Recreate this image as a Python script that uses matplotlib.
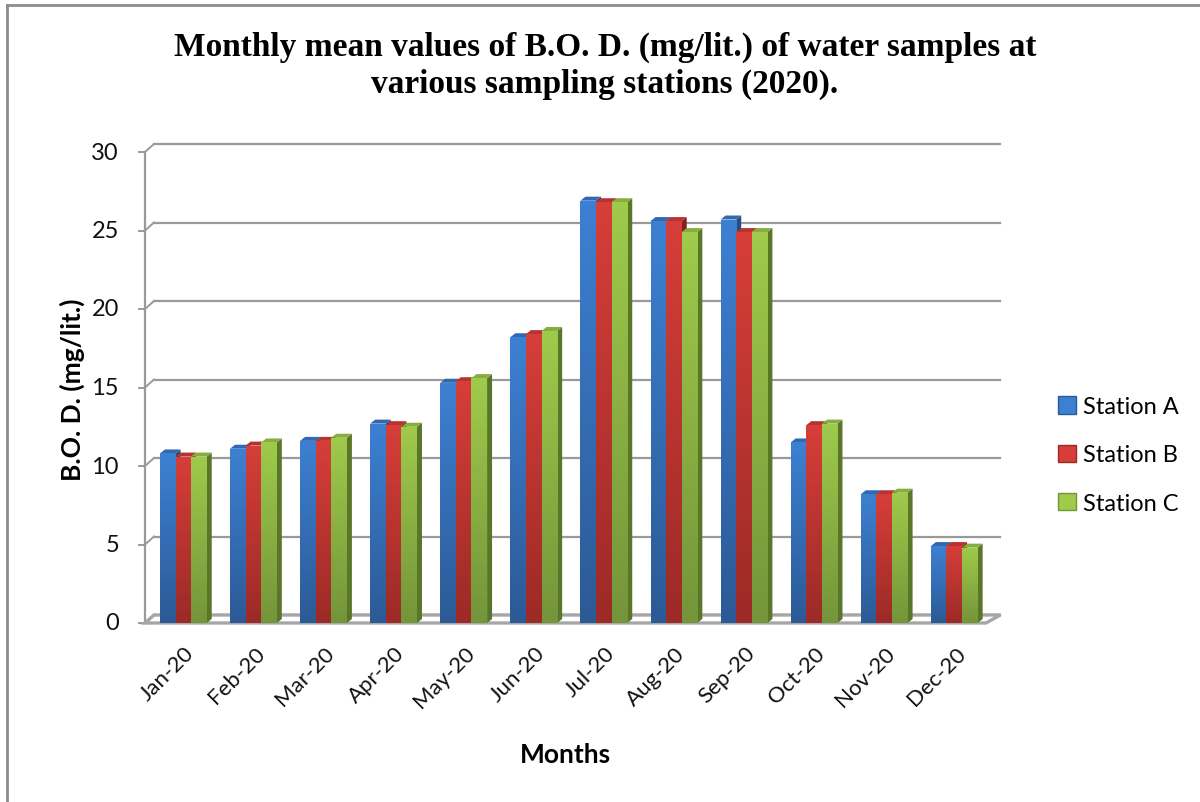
import numpy as np
import matplotlib
matplotlib.use("Agg")
import matplotlib.pyplot as plt
from matplotlib.colors import LinearSegmentedColormap
from matplotlib.patches import Polygon, Rectangle, Patch
from matplotlib.lines import Line2D

# data (mg/lit.)
months = ["Jan-20", "Feb-20", "Mar-20", "Apr-20", "May-20", "Jun-20",
          "Jul-20", "Aug-20", "Sep-20", "Oct-20", "Nov-20", "Dec-20"]
station_a = [10.8, 11.1, 11.6, 12.7, 15.3, 18.2, 26.9, 25.6, 25.7, 11.5, 8.2, 4.9]
station_b = [10.6, 11.3, 11.6, 12.6, 15.4, 18.4, 26.8, 25.6, 24.9, 12.6, 8.2, 4.9]
station_c = [10.6, 11.5, 11.8, 12.5, 15.6, 18.6, 26.8, 24.9, 24.9, 12.7, 8.3, 4.8]
stations = ["Station A", "Station B", "Station C"]
yticks = [0, 5, 10, 15, 20, 25, 30]

# (light top, dark bottom, top face, side face)
colors = [("#3d80d2", "#2c5a96", "#3068b4", "#244d85"),
          ("#d63e39", "#9c2a26", "#b83230", "#85211e"),
          ("#9fca4b", "#74953a", "#86ad3e", "#5a7629")]

W, H = 1200, 803
fig = plt.figure(figsize=(12, 8.03), dpi=100)
ax = fig.add_axes([145 / W, 1 - 624 / H, (986 - 145) / W, (624 - 153) / H])
ax.set_xlim(0, 12)
ax.set_ylim(0, 30)
ax.axis("off")

sans = ["Lato", "DejaVu Sans"]

# pixel -> data unit conversions
px_x = 12 / ax.bbox.width
px_y = 30 / ax.bbox.height
wall_dx, wall_dy = 9 * px_x, 8 * px_y
bar_dx, bar_dy = 5 * px_x, 4 * px_y

grid_c = "#9a9a9a"
# back wall gridlines + left wall connectors
for v in yticks:
    ax.plot([wall_dx, 12 + wall_dx * 1.6], [v + wall_dy, v + wall_dy], color=grid_c,
            lw=1.6, clip_on=False, zorder=1)
    ax.plot([0, wall_dx], [v, v + wall_dy], color=grid_c, lw=1.4, clip_on=False, zorder=1)
    ax.plot([-6 * px_x, 0], [v, v], color=grid_c, lw=1.4, clip_on=False, zorder=1)
    ax.text(-26 * px_x, v, str(v), ha="right", va="center", fontsize=17,
            family=sans, color="#111111")
ax.plot([0, 0], [0, 30], color=grid_c, lw=1.6, clip_on=False, zorder=1)

# floor
floor = Polygon([(0, 0), (12, 0), (12 + wall_dx * 1.6, wall_dy), (wall_dx, wall_dy)],
                closed=True, facecolor="white", edgecolor="#a6a6a6", lw=2.4,
                clip_on=False, zorder=1.5)
ax.add_patch(floor)

grad = np.linspace(0, 1, 64).reshape(-1, 1)
bw = 15.6 * px_x
series = [station_a, station_b, station_c]
z = 3
for i in range(len(months)):
    for j, vals in enumerate(series):
        h = vals[i]
        x0 = i + 0.5 - 1.5 * bw + j * bw + 0.047
        light, dark, topc, sidec = colors[j]
        side = Polygon([(x0 + bw, 0), (x0 + bw + bar_dx, bar_dy),
                        (x0 + bw + bar_dx, h + bar_dy), (x0 + bw, h)],
                       closed=True, facecolor=sidec, edgecolor="none", zorder=z)
        ax.add_patch(side)
        top = Polygon([(x0, h), (x0 + bw, h), (x0 + bw + bar_dx, h + bar_dy),
                       (x0 + bar_dx, h + bar_dy)],
                      closed=True, facecolor=topc, edgecolor="none", zorder=z)
        ax.add_patch(top)
        rect = Rectangle((x0, 0), bw, h, facecolor="none", edgecolor="none", zorder=z + 0.5)
        ax.add_patch(rect)
        cmap = LinearSegmentedColormap.from_list("g", [dark, light])
        im = ax.imshow(grad, extent=[x0, x0 + bw, 0, h], origin="lower", cmap=cmap,
                       aspect="auto", interpolation="bilinear", zorder=z + 0.5)
        im.set_clip_path(rect)
        z += 1

ax.set_xlim(0, 12)
ax.set_ylim(0, 30)

# month labels
for i, m in enumerate(months):
    ax.text(i + 0.66, -1.7, m, rotation=45, ha="right", va="center",
            rotation_mode="anchor", fontsize=16, family=sans, color="#111111")

fig.text(605 / W, 1 - 66 / H,
         "Monthly mean values of B.O. D. (mg/lit.) of water samples at\nvarious sampling stations (2020).",
         ha="center", va="center", fontsize=24, fontweight="bold",
         family=["Liberation Serif", "DejaVu Serif"], linespacing=1.25)
fig.text(72 / W, 1 - 390 / H, "B.O. D. (mg/lit.)", rotation=90, ha="center", va="center",
         fontsize=19, fontweight="bold", family=sans)
fig.text(565 / W, 1 - 755 / H, "Months", ha="center", va="center",
         fontsize=19, fontweight="bold", family=sans)

handles = [Patch(facecolor=c[0], edgecolor=c[1]) for c in colors]
leg = fig.legend(handles, stations, loc="center left", bbox_to_anchor=(1037 / W, 1 - 456 / H),
                 frameon=False, prop={"family": sans, "size": 17}, handlelength=0.75,
                 handleheight=0.75, handletextpad=0.3, labelspacing=1.15)

# chart border
fig.add_artist(Line2D([7 / W, 7 / W], [0, 1 - 6 / H], color="#8c8c8c", lw=2))
fig.add_artist(Line2D([7 / W, 1], [1 - 6 / H, 1 - 6 / H], color="#8c8c8c", lw=2))

fig.savefig("out.png", dpi=100)
